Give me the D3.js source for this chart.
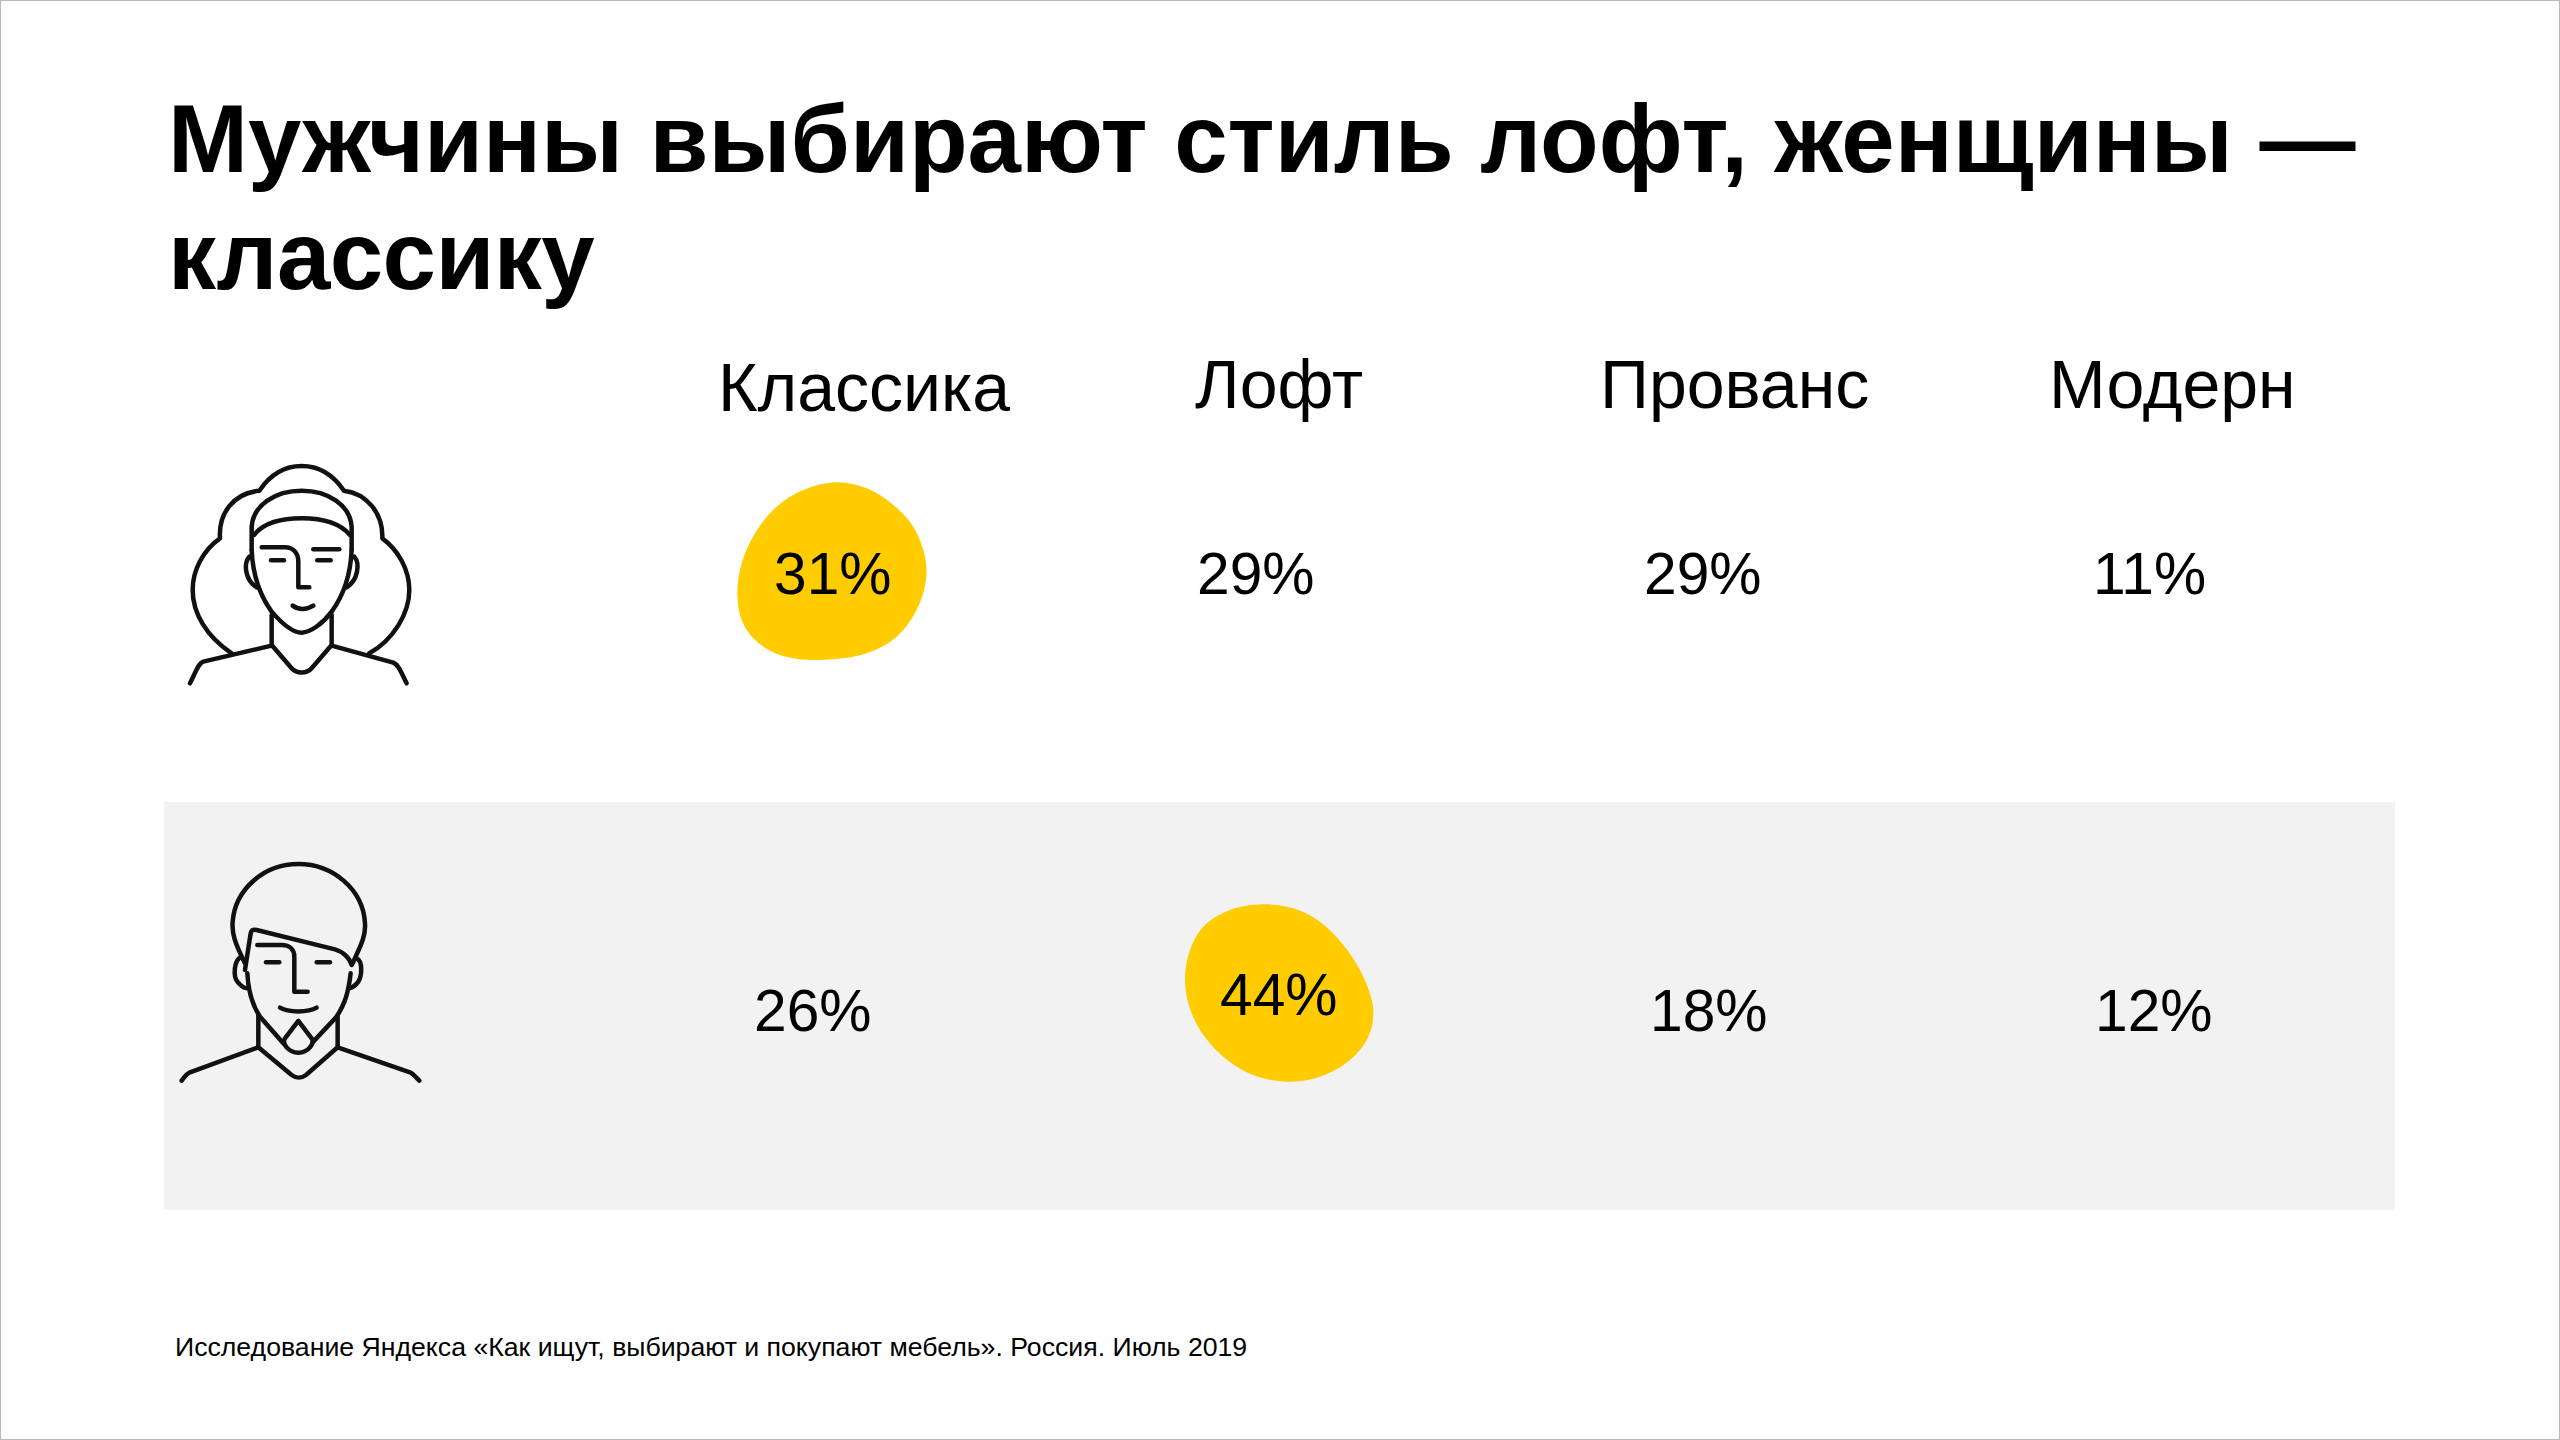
<!DOCTYPE html>
<html lang="ru"><head><meta charset="utf-8">
<script src="https://d3js.org/d3.v7.min.js"></script>
<style>html,body{margin:0;background:#fff}svg{display:block}text{font-family:"Liberation Sans",Arial,sans-serif;fill:#000}</style>
</head><body><svg id="c" width="2560" height="1440"></svg>
<script>
const titleLines = ["Мужчины выбирают стиль лофт, женщины —", "классику"];
const categories = ["Классика", "Лофт", "Прованс", "Модерн"];
const groups = ["Женщины", "Мужчины"];
const womenValues = [31, 29, 29, 11];
const menValues = [26, 44, 18, 12];
const footnote = "Исследование Яндекса «Как ищут, выбирают и покупают мебель». Россия. Июль 2019";

const svg = d3.select("#c");
svg.append("rect").attr("x",0.5).attr("y",0.5).attr("width",2559).attr("height",1439).attr("fill","#fff").attr("stroke","#b8b8b8");
svg.append("rect").attr("x",164).attr("y",802).attr("width",2231).attr("height",408).attr("fill","#f2f2f2");

svg.selectAll("text.title").data(titleLines).join("text").attr("class","title")
  .attr("x",168).attr("y",(d,i)=>172+i*117).attr("font-size",96).attr("font-weight",700)
  .attr("letter-spacing",(d,i)=>i?-0.6:0).text(d=>d);

const x = d3.scalePoint().domain(categories).range([860,2150]);
const y = d3.scalePoint().domain(groups).range([594,1031]);
const headerX = {"Классика":718,"Лофт":1195,"Прованс":1600,"Модерн":2049};
const headerY = {"Классика":411,"Лофт":408,"Прованс":408,"Модерн":408};
svg.selectAll("text.head").data(categories).join("text").attr("class","head")
  .attr("x",d=>headerX[d]).attr("y",d=>headerY[d]).attr("font-size",68).text(d=>d);

const blobLine = d3.line().curve(d3.curveCatmullRomClosed.alpha(0.5));
const blobA = [[410,67],[500,85],[580,135],[640,200],[675,290],[678,360],[650,450],[590,530],[500,580],[350,600],[240,585],[165,540],[125,480],[112,400],[125,310],[165,220],[230,140],[310,90]];
const blobB = [[310,43],[400,55],[480,95],[550,165],[610,260],[640,360],[625,440],[570,510],[480,560],[380,575],[280,555],[190,500],[120,420],[85,340],[75,260],[90,180],[130,110],[210,60]];
svg.append("path").attr("d",blobLine(blobA)).attr("fill","#ffcc00").attr("transform","translate(700,460) scale(0.3333)");
svg.append("path").attr("d",blobLine(blobB)).attr("fill","#ffcc00").attr("transform","translate(1160,890) scale(0.3333)");

const cellNudge = {"Женщины":[-86,-93,-76,-57],"Мужчины":[-106,-70,-70,-55]};
const cellRise = {"Женщины":[0,0,0,0],"Мужчины":[0,16,0,0]};
const cells = groups.flatMap((g,gi)=>(gi?menValues:womenValues).map((v,ci)=>({g,ci,v,c:categories[ci]})));
svg.selectAll("text.val").data(cells).join("text").attr("class","val")
  .attr("x",d=>x(d.c)+cellNudge[d.g][d.ci]).attr("y",d=>y(d.g)-cellRise[d.g][d.ci]).attr("font-size",58.7).text(d=>d.v+"%");

svg.append("text").attr("x",175).attr("y",1356).attr("font-size",26.67).text(footnote);

const woman = ["M215,640C140,590 98,520 98,450C98,390 130,330 180,295C175,220 220,160 298,152C330,105 375,78 425,78C475,78 520,105 552,152C620,160 670,220 667,295C715,330 748,390 748,450C748,520 700,600 628,640",
"M275,330L275,260C280,195 345,152 425,152C505,152 570,195 575,260L575,330",
"M282,285C310,250 365,235 425,235C485,235 540,250 570,285",
"M275,330C278,400 295,460 335,515C365,550 400,578 425,578C450,578 490,550 515,515C555,460 572,400 575,330",
"M268,350C250,370 255,420 290,442","M583,350C600,370 595,420 560,442",
"M305,322L375,322C400,322 415,340 415,365L415,442L448,442","M460,328L538,328","M333,361L372,361","M472,361L512,361",
"M398,497C415,510 440,510 460,497",
"M335,525L335,615L395,685C410,702 440,702 455,685L515,615L515,525",
"M335,617L130,665C115,670 110,690 90,730","M515,617L700,668C715,675 720,690 740,730"];
const man = ["M255,370C225,310 215,280 218,245C225,150 310,72 415,72C520,72 610,150 615,250C618,290 600,320 578,370",
"M255,390L272,280C274,270 280,268 290,270L525,328C550,335 570,355 575,375",
"M262,400C265,460 280,500 300,530L370,610","M572,400C565,460 555,490 530,530L460,605",
"M245,350C220,360 220,410 232,425C240,435 250,445 262,445","M590,355C610,365 605,410 595,425C588,435 580,442 568,445",
"M292,315L365,315C390,315 403,330 403,350L403,455L443,455","M318,367L358,367","M470,367L510,367",
"M360,503C385,518 445,518 470,503",
"M415,543L375,595C365,610 385,638 415,638C445,638 465,610 455,595Z",
"M295,525L295,622L395,705C408,715 425,715 438,705L533,622L533,525",
"M295,622L90,697C80,702 72,712 65,722","M533,622L750,697C760,702 768,712 778,722"];
function icon(paths,tx,ty){
  svg.append("g").attr("transform",`translate(${tx},${ty}) scale(0.3333)`)
    .selectAll("path").data(paths).join("path").attr("d",d=>d)
    .attr("fill","none").attr("stroke","#111").attr("stroke-width",13.5).attr("stroke-linecap","round").attr("stroke-linejoin","round");
}
icon(woman,160,440);
icon(man,160,840);
</script></body></html>
